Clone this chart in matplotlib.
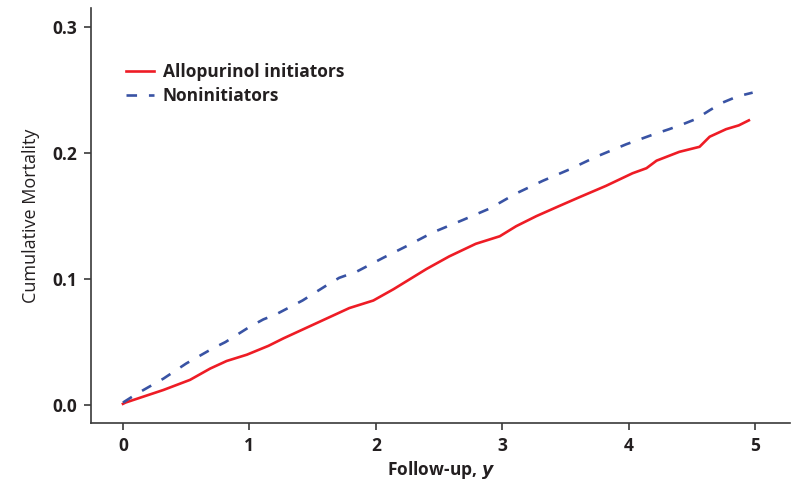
import numpy as np
import matplotlib.pyplot as plt

non_t = [0, 0.11, 0.32, 0.50, 0.71, 0.81, 1.0, 1.11, 1.21, 1.42, 1.61, 1.71, 1.85, 2.06, 2.24,
         2.45, 2.69, 2.90, 3.11, 3.32, 3.53, 3.74, 3.98, 4.20, 4.32, 4.43, 4.53, 4.64, 4.74, 4.86, 4.98]
non_y = [0.002, 0.009, 0.021, 0.033, 0.045, 0.050, 0.062, 0.068, 0.072, 0.083, 0.095, 0.101, 0.106,
         0.117, 0.126, 0.137, 0.147, 0.156, 0.168, 0.178, 0.187, 0.197, 0.207, 0.215, 0.219, 0.223,
         0.227, 0.234, 0.240, 0.245, 0.248]

allo_t = [0, 0.02, 0.32, 0.53, 0.69, 0.82, 0.98, 1.15, 1.27, 1.53, 1.79, 1.98, 2.14, 2.27, 2.40,
          2.58, 2.79, 2.98, 3.11, 3.27, 3.45, 3.61, 3.82, 4.03, 4.14, 4.22, 4.40, 4.56, 4.64, 4.77, 4.87, 4.95]
allo_y = [0.001, 0.002, 0.012, 0.020, 0.029, 0.035, 0.040, 0.047, 0.053, 0.065, 0.077, 0.083, 0.092,
          0.100, 0.108, 0.118, 0.128, 0.134, 0.142, 0.150, 0.158, 0.165, 0.174, 0.184, 0.188, 0.194,
          0.201, 0.205, 0.213, 0.219, 0.222, 0.226]

x_ticks = [0, 1, 2, 3, 4, 5]
y_ticks = [0.0, 0.1, 0.2, 0.3]

plt.rcParams['font.family'] = ['Open Sans', 'DejaVu Sans']
txt = '#231f20'

fig = plt.figure(figsize=(7.91, 4.83), dpi=100)
ax = fig.add_axes([0.115, 0.124, 0.884, 0.859])

ax.plot(allo_t, allo_y, color='#ee1c25', lw=1.9, label='Allopurinol initiators')
ax.plot(non_t, non_y, color='#3953a4', lw=1.9, dashes=(4, 4.5), label='Noninitiators')

ax.set_xlim(-0.253, 5.277)
ax.set_ylim(-0.0143, 0.315)
ax.set_xticks(x_ticks)
ax.set_xticklabels([str(v) for v in x_ticks])
ax.set_yticks(y_ticks)
ax.set_yticklabels([f'{v:.1f}' for v in y_ticks])

for s in ['top', 'right']:
    ax.spines[s].set_visible(False)
for s in ['left', 'bottom']:
    ax.spines[s].set_color('#3a3a3a')
    ax.spines[s].set_linewidth(1.2)

ax.tick_params(direction='out', length=5, width=1.2, color='#3a3a3a',
               labelsize=12.5, labelcolor=txt, pad=5)
for lab in ax.get_xticklabels() + ax.get_yticklabels():
    lab.set_fontweight('bold')

ax.set_xlabel('Follow-up, $\\mathbfit{y}$', fontsize=12.5, fontweight='bold', color=txt, labelpad=3)
ax.set_ylabel('Cumulative Mortality', fontsize=13, color=txt, labelpad=9)

leg = ax.legend(loc='upper left', bbox_to_anchor=(0.028, 0.905), frameon=False, fontsize=12.5,
                handlelength=1.6, handletextpad=0.5, labelspacing=0.35)
for t in leg.get_texts():
    t.set_color(txt)
    t.set_fontweight('bold')

fig.savefig('out.png', dpi=100)
